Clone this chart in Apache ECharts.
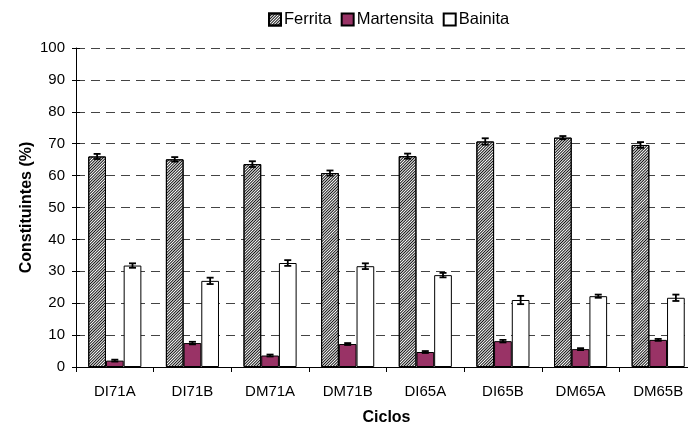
<!DOCTYPE html>
<html>
<head>
<meta charset="utf-8">
<script src="https://cdn.jsdelivr.net/npm/echarts@6/dist/echarts.min.js"></script>
<style>
  html, body { margin: 0; padding: 0; background: #fff; }
  #chart { width: 688px; height: 427px; }
</style>
</head>
<body>
<div id="chart"></div>
<script>
// dados
const ciclos = ['DI71A', 'DI71B', 'DM71A', 'DM71B', 'DI65A', 'DI65B', 'DM65A', 'DM65B'];
const ferrita = [66.0, 65.1, 63.6, 60.8, 66.1, 70.7, 71.9, 69.6];
const ferritaErr = [0.8, 0.7, 0.9, 0.8, 0.8, 1.0, 0.5, 0.9];
const martensita = [2.0, 7.5, 3.6, 7.2, 4.7, 8.1, 5.6, 8.5];
const martensitaErr = [0.3, 0.4, 0.3, 0.3, 0.3, 0.4, 0.3, 0.3];
const bainita = [31.8, 27.0, 32.6, 31.6, 28.8, 21.0, 22.2, 21.7];
const bainitaErr = [0.7, 1.0, 0.9, 0.9, 0.7, 1.3, 0.5, 1.0];
const yTicks = [0, 10, 20, 30, 40, 50, 60, 70, 80, 90, 100];

const BAR_PCT = 0.228; // largura da barra em fração da categoria

const chart = echarts.init(document.getElementById('chart'), null, { renderer: 'canvas' });

// barra de erro deslocada para a posição de cada barra do grupo
function errorSeries(vals, errs, idx) {
  return {
    type: 'custom',
    z: 10,
    silent: true,
    data: vals.map((v, i) => [i, v - errs[i], v + errs[i]]),
    renderItem: function (params, api) {
      const bw = api.size([1, 0])[0] * BAR_PCT;
      const lo = api.coord([api.value(0), api.value(1)]);
      const hi = api.coord([api.value(0), api.value(2)]);
      const x = lo[0] + (idx - 1) * bw;
      const cap = 3.5;
      const style = { stroke: '#000', lineWidth: 1.8 };
      return {
        type: 'group',
        children: [
          { type: 'line', shape: { x1: x, y1: lo[1], x2: x, y2: hi[1] }, style: style },
          { type: 'line', shape: { x1: x - cap, y1: lo[1], x2: x + cap, y2: lo[1] }, style: style },
          { type: 'line', shape: { x1: x - cap, y1: hi[1], x2: x + cap, y2: hi[1] }, style: style }
        ]
      };
    }
  };
}

const option = {
  animation: false,
  textStyle: { fontFamily: 'Liberation Sans, Arial, sans-serif' },
  legend: {
    top: 6,
    left: 263,
    icon: 'rect',
    itemWidth: 12,
    itemHeight: 12,
    itemGap: 9,
    textStyle: { fontSize: 16.5, color: '#000', padding: [0, 0, 0, -2] },
    data: ['Ferrita', 'Martensita', 'Bainita']
  },
  grid: { left: 76, right: -9, top: 48, bottom: 60, containLabel: false, outerBoundsMode: 'none' },
  xAxis: {
    type: 'category',
    data: ciclos,
    name: 'Ciclos',
    nameLocation: 'middle',
    nameMoveOverlap: false,
    nameGap: 43,
    nameTextStyle: { fontSize: 16, fontWeight: 'bold', color: '#000' },
    axisLine: { lineStyle: { color: '#000', width: 1 } },
    axisTick: { show: true, length: 5, lineStyle: { color: '#000' } },
    axisLabel: { fontSize: 15, color: '#000', margin: 17 },
    splitLine: { show: false }
  },
  yAxis: [
    {
      type: 'value',
      min: 0,
      max: 100,
      interval: 10,
      name: 'Constituintes (%)',
      nameLocation: 'middle',
      nameMoveOverlap: false,
      nameGap: 41,
      nameTextStyle: { fontSize: 16, fontWeight: 'bold', color: '#000' },
      axisLine: { show: true, lineStyle: { color: '#000', width: 1 } },
      axisTick: { show: true, length: 4, lineStyle: { color: '#000' } },
      axisLabel: {
        fontSize: 15, color: '#000', margin: 11,
        formatter: v => (yTicks.includes(v) ? String(v) : '')
      },
      splitLine: { show: true, lineStyle: { color: '#444', type: [9, 6], width: 1 } }
    },
    {
      // só para o traço do tick cruzar o eixo
      type: 'value',
      position: 'left',
      min: 0,
      max: 100,
      interval: 10,
      axisLine: { show: false },
      axisTick: { show: true, inside: true, length: 4, lineStyle: { color: '#000' } },
      axisLabel: { show: false },
      splitLine: { show: false }
    }
  ],
  series: [
    {
      name: 'Ferrita',
      type: 'bar',
      data: ferrita,
      barWidth: (BAR_PCT * 100) + '%',
      barGap: '0%',
      itemStyle: {
        color: '#ffffff',
        borderColor: '#000',
        borderWidth: 1,
        decal: {
          symbol: 'rect',
          color: '#111',
          dashArrayX: [1, 0],
          dashArrayY: [1, 1],
          rotation: -Math.PI / 4
        }
      }
    },
    {
      name: 'Martensita',
      type: 'bar',
      data: martensita,
      barWidth: (BAR_PCT * 100) + '%',
      barGap: '0%',
      itemStyle: { color: '#993366', borderColor: '#000', borderWidth: 1 }
    },
    {
      name: 'Bainita',
      type: 'bar',
      data: bainita,
      barWidth: (BAR_PCT * 100) + '%',
      barGap: '0%',
      itemStyle: { color: '#ffffff', borderColor: '#000', borderWidth: 1 }
    },
    errorSeries(ferrita, ferritaErr, 0),
    errorSeries(martensita, martensitaErr, 1),
    errorSeries(bainita, bainitaErr, 2)
  ]
};

chart.setOption(option);
</script>
</body>
</html>
